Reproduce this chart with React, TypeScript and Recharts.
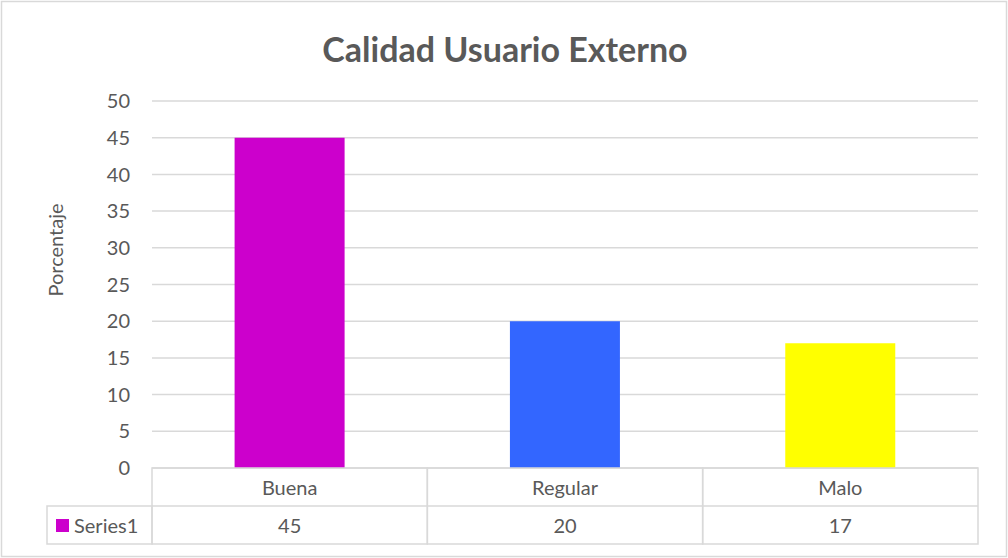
import React from "react";
import {
  BarChart,
  Bar,
  Cell,
  XAxis,
  YAxis,
  CartesianGrid,
  Label,
} from "recharts";

const categories = ["Buena", "Regular", "Malo"];
const series1 = [45, 20, 17];
const barColors = ["#CC00CC", "#3366FF", "#FFFF00"];
const yTicks = [0, 5, 10, 15, 20, 25, 30, 35, 40, 45, 50];

const chartData = categories.map((name, i) => ({ name, value: series1[i] }));

const FONT = "Lato, 'Open Sans', sans-serif";
const TEXT = "#595959";
const LINE = "#D9D9D9";
const ROW_H = 38;

// draws one column of the data table under the plot
const TableTick = (props: any) => {
  const { x, payload, index } = props;
  const half = payload.offset ?? 0;
  const left = x - half;
  const right = x + half;
  const top = 468;
  const v = series1[index];
  return (
    <g>
      <rect x={left} y={top} width={right - left} height={ROW_H * 2} fill="none" stroke={LINE} strokeWidth={1.5} />
      <line x1={left} x2={right} y1={top + ROW_H} y2={top + ROW_H} stroke={LINE} strokeWidth={1.5} />
      <text x={x} y={top + ROW_H / 2} textAnchor="middle" dominantBaseline="central" fill={TEXT} fontSize={20} fontFamily={FONT}>
        {payload.value}
      </text>
      <text x={x} y={top + ROW_H * 1.5} textAnchor="middle" dominantBaseline="central" fill={TEXT} fontSize={20} fontFamily={FONT}>
        {v}
      </text>
      {index === 0 && (
        <g>
          <rect x={47} y={top + ROW_H} width={left - 47} height={ROW_H} fill="none" stroke={LINE} strokeWidth={1.5} />
          <rect x={56} y={top + ROW_H + 13} width={13} height={13} fill={barColors[0]} />
          <text x={74} y={top + ROW_H * 1.5} dominantBaseline="central" fill={TEXT} fontSize={20} fontFamily={FONT}>
            Series1
          </text>
        </g>
      )}
    </g>
  );
};

export default function App() {
  return (
    <div style={{ position: "fixed", top: 0, left: 0, width: 1008, height: 558, background: "#fff" }}>
      <svg width={1008} height={558} style={{ position: "absolute", top: 0, left: 0 }}>
        <rect x={1.5} y={1.5} width={1005} height={555} fill="#fff" stroke={LINE} strokeWidth={1.5} />
        <text x={505} y={48} textAnchor="middle" dominantBaseline="central" fill={TEXT} fontSize={34} fontWeight="bold" fontFamily={FONT}>
          Calidad Usuario Externo
        </text>
      </svg>
      <div style={{ position: "absolute", top: 0, left: 0 }}>
        <BarChart
          width={1008}
          height={558}
          data={chartData}
          margin={{ top: 101, right: 30, left: 42, bottom: 14 }}
          barCategoryGap="30%"
        >
          <CartesianGrid vertical={false} stroke={LINE} strokeWidth={1.5} />
          <XAxis
            dataKey="name"
            axisLine={false}
            tickLine={false}
            tickSize={0}
            tickMargin={0}
            height={76}
            interval={0}
            tick={<TableTick />}
          />
          <YAxis
            domain={[0, 50]}
            ticks={yTicks}
            width={110}
            axisLine={false}
            tickLine={false}
            tickSize={0}
            tickMargin={22}
            tick={{ fill: TEXT, fontSize: 20, fontFamily: FONT }}
          >
            <Label
              content={() => (
                <text x={55} y={250} transform="rotate(-90 55 250)" textAnchor="middle" dominantBaseline="central" fill={TEXT} fontSize={20} fontFamily={FONT}>
                  Porcentaje
                </text>
              )}
            />
          </YAxis>
          <Bar dataKey="value" isAnimationActive={false}>
            {chartData.map((d, i) => (
              <Cell key={d.name} fill={barColors[i]} />
            ))}
          </Bar>
        </BarChart>
      </div>
    </div>
  );
}
